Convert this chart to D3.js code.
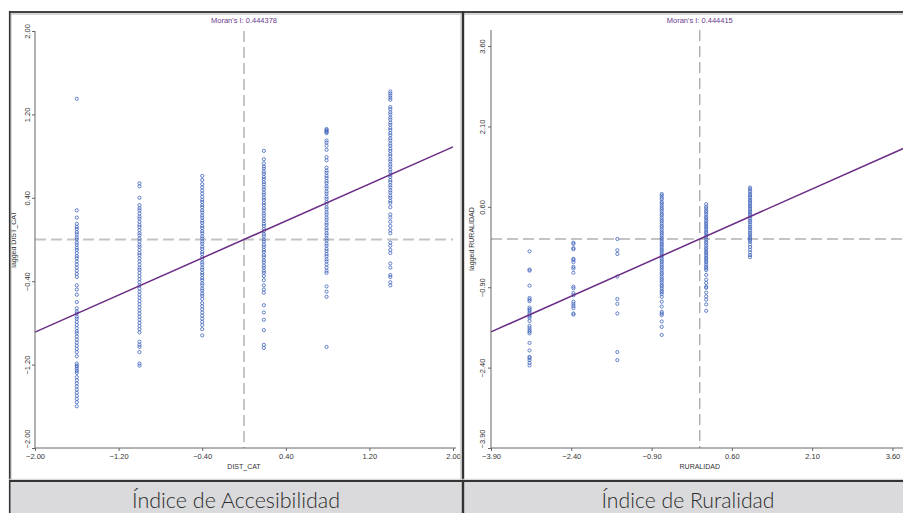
<!DOCTYPE html>
<html><head><meta charset="utf-8">
<script src="https://cdn.jsdelivr.net/npm/d3@7"></script>
<style>
html,body{margin:0;padding:0;background:#fff;overflow:hidden;}
svg{display:block;}
</style></head>
<body>
<svg id="chart" width="903" height="513"></svg>
<script>
// ---------- DATA ----------
const accMoran = 0.444378;
const rurMoran = 0.444415;
const accTicks = [-2.0, -1.2, -0.4, 0.4, 1.2, 2.0];
const rurTicks = [-3.9, -2.4, -0.9, 0.6, 2.1, 3.6];
const accCats = [-1.60, -1.00, -0.40, 0.19, 0.79, 1.40];
const accLagA = [1.35, 0.28, 0.21, 0.15, 0.12, 0.10, 0.07, 0.05, 0.02, 0.00, -0.03, -0.05, -0.08, -0.10, -0.13, -0.16, -0.18, -0.21, -0.24, -0.27, -0.30, -0.33, -0.36, -0.44, -0.48, -0.53, -0.60, -0.66, -0.69, -0.71, -0.74, -0.76, -0.79, -0.82, -0.85, -0.88, -0.90, -0.93, -0.96, -0.99, -1.02, -1.05, -1.08, -1.12, -1.19, -1.21, -1.22, -1.24, -1.26, -1.28, -1.32, -1.35, -1.38, -1.41, -1.44, -1.47, -1.50, -1.53, -1.56, -1.60];
const accLagB = [0.54, 0.51, 0.40, 0.33, 0.30, 0.28, 0.25, 0.22, 0.20, 0.17, 0.14, 0.12, 0.09, 0.06, 0.04, 0.01, -0.02, -0.05, -0.07, -0.10, -0.13, -0.15, -0.18, -0.21, -0.24, -0.27, -0.29, -0.32, -0.35, -0.38, -0.41, -0.44, -0.47, -0.50, -0.53, -0.56, -0.59, -0.62, -0.65, -0.68, -0.71, -0.74, -0.77, -0.80, -0.83, -0.86, -0.89, -0.98, -1.01, -1.03, -1.08, -1.19, -1.21];
const accLagC = [0.61, 0.57, 0.53, 0.50, 0.47, 0.44, 0.41, 0.38, 0.36, 0.33, 0.31, 0.28, 0.26, 0.23, 0.21, 0.18, 0.16, 0.13, 0.11, 0.08, 0.06, 0.03, 0.01, -0.02, -0.04, -0.07, -0.09, -0.12, -0.14, -0.17, -0.19, -0.22, -0.24, -0.27, -0.29, -0.32, -0.34, -0.37, -0.39, -0.42, -0.44, -0.47, -0.49, -0.52, -0.54, -0.57, -0.61, -0.64, -0.67, -0.70, -0.73, -0.76, -0.79, -0.82, -0.86, -0.92];
const accLagD = [0.85, 0.77, 0.73, 0.70, 0.68, 0.65, 0.63, 0.60, 0.58, 0.55, 0.53, 0.50, 0.48, 0.45, 0.43, 0.40, 0.38, 0.35, 0.33, 0.30, 0.28, 0.25, 0.23, 0.20, 0.18, 0.15, 0.13, 0.10, 0.08, 0.05, 0.03, 0.00, -0.02, -0.05, -0.07, -0.10, -0.12, -0.15, -0.17, -0.20, -0.22, -0.25, -0.27, -0.30, -0.32, -0.35, -0.39, -0.44, -0.48, -0.51, -0.63, -0.70, -0.77, -0.87, -1.01, -1.04];
const accLagE = [1.06, 1.05, 1.04, 1.03, 1.02, 0.95, 0.93, 0.90, 0.86, 0.79, 0.76, 0.69, 0.66, 0.64, 0.61, 0.59, 0.56, 0.54, 0.51, 0.49, 0.46, 0.44, 0.41, 0.39, 0.36, 0.34, 0.31, 0.29, 0.26, 0.24, 0.21, 0.19, 0.16, 0.14, 0.11, 0.09, 0.06, 0.04, 0.01, -0.01, -0.04, -0.06, -0.09, -0.11, -0.14, -0.16, -0.19, -0.21, -0.24, -0.27, -0.30, -0.32, -0.45, -0.50, -0.55, -1.03];
const accLagF = [1.42, 1.40, 1.38, 1.36, 1.34, 1.27, 1.25, 1.22, 1.20, 1.17, 1.15, 1.12, 1.10, 1.07, 1.05, 1.02, 1.00, 0.97, 0.95, 0.92, 0.90, 0.87, 0.85, 0.82, 0.80, 0.77, 0.75, 0.72, 0.70, 0.67, 0.65, 0.62, 0.60, 0.57, 0.55, 0.52, 0.50, 0.47, 0.45, 0.42, 0.40, 0.37, 0.35, 0.31, 0.24, 0.21, 0.17, 0.13, 0.09, 0.06, -0.03, -0.06, -0.10, -0.13, -0.23, -0.27, -0.34, -0.36, -0.41, -0.44];

const rurCats = [-3.18, -2.36, -1.54, -0.71, 0.12, 0.94];
const rurLagA = [-0.23, -0.57, -0.59, -0.87, -1.10, -1.13, -1.16, -1.28, -1.31, -1.34, -1.38, -1.41, -1.44, -1.47, -1.53, -1.62, -1.66, -1.70, -1.73, -1.76, -1.94, -2.08, -2.20, -2.22, -2.26, -2.31, -2.36];
const rurLagB = [-0.07, -0.09, -0.17, -0.19, -0.37, -0.39, -0.43, -0.52, -0.55, -0.63, -0.89, -0.92, -1.01, -1.05, -1.17, -1.21, -1.25, -1.29, -1.39, -1.41];
const rurLagC = [0.00, -0.21, -0.28, -0.70, -1.12, -1.21, -1.39, -2.11, -2.26];
const rurLagD = [0.84, 0.81, 0.77, 0.74, 0.69, 0.66, 0.62, 0.58, 0.55, 0.51, 0.47, 0.44, 0.40, 0.36, 0.33, 0.29, 0.25, 0.22, 0.18, 0.14, 0.11, 0.07, 0.03, 0.00, -0.04, -0.08, -0.11, -0.15, -0.19, -0.22, -0.26, -0.30, -0.33, -0.37, -0.41, -0.44, -0.48, -0.52, -0.55, -0.59, -0.63, -0.66, -0.70, -0.74, -0.77, -0.81, -0.85, -0.88, -0.92, -0.96, -0.99, -1.03, -1.08, -1.17, -1.26, -1.36, -1.39, -1.42, -1.54, -1.64, -1.79];
const rurLagE = [0.65, 0.60, 0.57, 0.53, 0.50, 0.46, 0.42, 0.39, 0.35, 0.31, 0.28, 0.24, 0.21, 0.17, 0.13, 0.10, 0.06, 0.03, -0.01, -0.05, -0.08, -0.12, -0.16, -0.19, -0.23, -0.26, -0.30, -0.34, -0.37, -0.41, -0.44, -0.48, -0.52, -0.55, -0.58, -0.67, -0.76, -0.82, -0.89, -0.91, -1.00, -1.07, -1.13, -1.22, -1.34];
const rurLagF = [0.96, 0.93, 0.89, 0.85, 0.82, 0.78, 0.74, 0.71, 0.67, 0.63, 0.60, 0.56, 0.52, 0.49, 0.45, 0.42, 0.38, 0.34, 0.31, 0.27, 0.23, 0.20, 0.16, 0.12, 0.09, 0.05, 0.02, -0.02, -0.05, -0.10, -0.15, -0.20, -0.25, -0.30, -0.34];

const panelTitles = ["Índice de Accesibilidad", "Índice de Ruralidad"];
const xTitles = ["DIST_CAT", "RURALIDAD"];
const yTitles = ["lagged DIST_CAT", "lagged RURALIDAD"];

// ---------- BUILD ----------
const svg = d3.select("#chart");
const fmt = d3.format(".2f");

function toPoints(cats, cols) {
  const pts = [];
  cats.forEach((c, i) => cols[i].forEach(v => pts.push([c, v])));
  return pts;
}

const panels = [
  { moran: accMoran, ticks: accTicks, dom: [-2, 2], xr: [35, 453], yr: [448, 31],
    pts: toPoints(accCats, [accLagA, accLagB, accLagC, accLagD, accLagE, accLagF]),
    xt: xTitles[0], yt: yTitles[0], title: panelTitles[0], yTitleX: 16, yLabX: 30, titleX: 236, tlen: 208 },
  { moran: rurMoran, ticks: rurTicks, dom: [-3.9, 3.9], xr: [491, 908.5], yr: [448, 30],
    pts: toPoints(rurCats, [rurLagA, rurLagB, rurLagC, rurLagD, rurLagE, rurLagF]),
    xt: xTitles[1], yt: yTitles[1], title: panelTitles[1], yTitleX: 474, yLabX: 485, titleX: 688, tlen: 173 }
];

// frame background
svg.append("rect").attr("x", 0).attr("y", 0).attr("width", 903).attr("height", 513).attr("fill", "#fff");
svg.append("rect").attr("x", 10).attr("y", 481).attr("width", 893).attr("height", 32).attr("fill", "#dadadc");

panels.forEach(p => {
  const x = d3.scaleLinear().domain(p.dom).range(p.xr);
  const y = d3.scaleLinear().domain(p.dom).range(p.yr);
  const g = svg.append("g");

  // dashed mean lines
  g.append("line").attr("x1", x(0)).attr("x2", x(0)).attr("y1", y.range()[1]).attr("y2", y.range()[0])
    .attr("stroke", "#a8a8a8").attr("stroke-width", 1.3).attr("stroke-dasharray", "11,5");
  g.append("line").attr("x1", x.range()[0]).attr("x2", Math.min(x.range()[1], 903)).attr("y1", y(0)).attr("y2", y(0))
    .attr("stroke", "#c4c4c4").attr("stroke-width", 1.8).attr("stroke-dasharray", "11,5");

  // points
  g.append("g").selectAll("circle").data(p.pts).join("circle")
    .attr("cx", d => x(d[0])).attr("cy", d => y(d[1])).attr("r", 1.6)
    .attr("fill", "none").attr("stroke", "#3f63bb").attr("stroke-width", 0.8);

  // regression line
  g.append("line").attr("x1", x(p.dom[0])).attr("y1", y(p.dom[0] * p.moran))
    .attr("x2", x(p.dom[1])).attr("y2", y(p.dom[1] * p.moran))
    .attr("stroke", "#6b2c86").attr("stroke-width", 1.5);

  // axes
  const xAxis = d3.axisBottom(x).tickValues(p.ticks).tickFormat(fmt).tickSize(3).tickPadding(3);
  const xa = g.append("g").attr("transform", `translate(0,${y.range()[0]})`).call(xAxis);
  xa.select(".domain").attr("stroke", "#666").attr("d", `M${x.range()[0]},0H${x.range()[0] + (p.dom[1] === 2 ? 421 : 420)}`);
  xa.selectAll(".tick line").attr("stroke", "#666");
  xa.selectAll("text").attr("font-family", "Liberation Sans, Arial, sans-serif").attr("font-size", 7.5).attr("fill", "#333");

  const yAxis = d3.axisLeft(y).tickValues(p.ticks).tickFormat(fmt).tickSize(3);
  const ya = g.append("g").attr("transform", `translate(${x.range()[0]},0)`).call(yAxis);
  ya.select(".domain").attr("stroke", "#666").attr("d", `M0,${y.range()[0]}V${y.range()[1]}`);
  ya.selectAll(".tick line").attr("stroke", "#666");
  ya.selectAll(".tick text")
    .attr("x", null).attr("dy", null)
    .attr("transform", `translate(${p.yLabX - x.range()[0]},0) rotate(-90)`)
    .attr("text-anchor", (d, i) => i === 0 ? "start" : "middle")
    .attr("font-family", "Liberation Sans, Arial, sans-serif").attr("font-size", 7.5).attr("fill", "#333");

  // titles
  g.append("text").attr("x", x(0)).attr("y", 23).attr("text-anchor", "middle")
    .attr("font-family", "Liberation Sans, Arial, sans-serif").attr("font-size", 7.5).attr("fill", "#6a3a8c")
    .text("Moran's I: " + p.moran.toFixed(6));
  g.append("text").attr("x", x(0)).attr("y", 469).attr("text-anchor", "middle")
    .attr("font-family", "Liberation Sans, Arial, sans-serif").attr("font-size", 7).attr("fill", "#333")
    .text(p.xt);
  g.append("text").attr("transform", `translate(${p.yTitleX},${y(0)}) rotate(-90)`).attr("text-anchor", "middle")
    .attr("font-family", "Liberation Sans, Arial, sans-serif").attr("font-size", 7).attr("fill", "#333")
    .text(p.yt);

  g.append("text").attr("x", p.titleX).attr("y", 508).attr("text-anchor", "middle")
    .attr("font-family", "Lato, sans-serif").attr("font-weight", 300).attr("font-size", 22).attr("fill", "#2b2b2b")
    .attr("textLength", p.tlen).attr("lengthAdjust", "spacingAndGlyphs")
    .text(p.title);
});

// frame lines
const frame = svg.append("g");
frame.append("line").attr("x1", 9).attr("x2", 903).attr("y1", 14).attr("y2", 14).attr("stroke", "#d6d6d6").attr("stroke-width", 2);
frame.append("line").attr("x1", 9).attr("x2", 903).attr("y1", 12).attr("y2", 12).attr("stroke", "#444").attr("stroke-width", 2);
frame.append("line").attr("x1", 11).attr("x2", 11).attr("y1", 13).attr("y2", 480).attr("stroke", "#d0d0d0").attr("stroke-width", 1.5);
frame.append("line").attr("x1", 9.7).attr("x2", 9.7).attr("y1", 11).attr("y2", 513).attr("stroke", "#333").attr("stroke-width", 1.6);
frame.append("line").attr("x1", 460.8).attr("x2", 460.8).attr("y1", 13).attr("y2", 480).attr("stroke", "#d0d0d0").attr("stroke-width", 1.2);
frame.append("line").attr("x1", 463).attr("x2", 463).attr("y1", 11).attr("y2", 513).attr("stroke", "#333").attr("stroke-width", 2.4);
frame.append("line").attr("x1", 9).attr("x2", 903).attr("y1", 479.3).attr("y2", 479.3).attr("stroke", "#cfcfcf").attr("stroke-width", 1);
frame.append("line").attr("x1", 9).attr("x2", 903).attr("y1", 481).attr("y2", 481).attr("stroke", "#333").attr("stroke-width", 2);
</script>
</body></html>
